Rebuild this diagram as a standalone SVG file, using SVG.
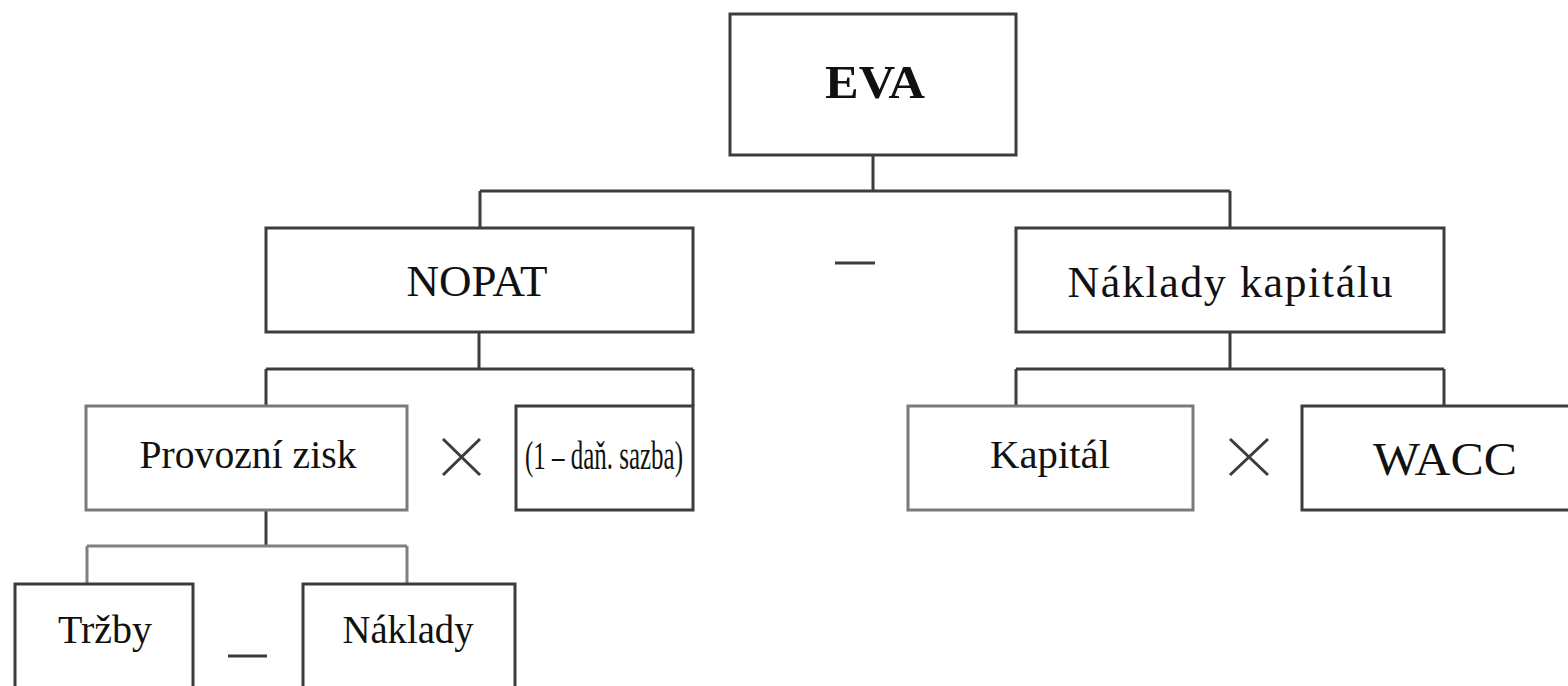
<svg xmlns="http://www.w3.org/2000/svg" width="1568" height="686" viewBox="0 0 1568 686">
<style>
.box{fill:#fff;stroke:#3c3c3c;stroke-width:3}
.gbox{fill:#fff;stroke:#7a7a7a;stroke-width:3}
.ln{fill:none;stroke:#3c3c3c;stroke-width:3}
.gln{fill:none;stroke:#808080;stroke-width:3}
.op{fill:none;stroke:#3c3c3c;stroke-width:3}
.t{font-family:"Liberation Serif","Times New Roman",serif;fill:#111;text-anchor:middle}
</style>
<rect width="1568" height="686" fill="#fff"/>
<g id="connectors">
<path class="ln" d="M873 155V191M480 191H1230M480 191V228M1230 191V228"/>
<path class="ln" d="M479 332V369M266 369H693M266 369V406M693 369V406"/>
<path class="ln" d="M1230 332V369M1016 369H1444M1016 369V406M1444 369V406"/>
<path class="ln" d="M266 510V546"/>
<path class="gln" d="M87 546H407M87 546V584M407 546V584"/>
</g>
<g id="eva"><rect class="box" x="730" y="14" width="286" height="141"/><text class="t" x="875" y="98" font-size="46" font-weight="bold" textLength="100" lengthAdjust="spacingAndGlyphs">EVA</text></g>
<g id="nopat"><rect class="box" x="266" y="228" width="427" height="104"/><text class="t" x="477" y="296" font-size="45">NOPAT</text></g>
<g id="naklady-kapitalu"><rect class="box" x="1016" y="228" width="428" height="104"/><text class="t" x="1230" y="297" font-size="44" textLength="325" lengthAdjust="spacing">Náklady kapitálu</text></g>
<g id="provozni-zisk"><rect class="gbox" x="86" y="406" width="321" height="104"/><text class="t" x="248" y="468" font-size="39" textLength="217" lengthAdjust="spacingAndGlyphs">Provozní zisk</text></g>
<g id="dan"><rect class="box" x="516" y="406" width="177" height="104"/><text class="t" x="604" y="469" font-size="39" textLength="158" lengthAdjust="spacingAndGlyphs">(1 – daň. sazba)</text></g>
<g id="kapital"><rect class="gbox" x="908" y="406" width="285" height="104"/><text class="t" x="1050" y="468" font-size="39" textLength="120" lengthAdjust="spacingAndGlyphs">Kapitál</text></g>
<g id="wacc"><rect class="box" x="1302" y="406" width="290" height="104"/><text class="t" x="1445" y="475" font-size="46" textLength="144" lengthAdjust="spacingAndGlyphs">WACC</text></g>
<g id="trzby"><rect class="box" x="15" y="584" width="178" height="130"/><text class="t" x="105" y="643" font-size="40" textLength="94" lengthAdjust="spacingAndGlyphs">Tržby</text></g>
<g id="naklady"><rect class="box" x="303" y="584" width="212" height="130"/><text class="t" x="408" y="643" font-size="39" textLength="131" lengthAdjust="spacingAndGlyphs">Náklady</text></g>
<g id="operators">
<path class="op" d="M835 263H875"/>
<path class="op" d="M443 439L480 475M480 439L443 475"/>
<path class="op" d="M1230 439L1268 475M1268 439L1230 475"/>
<path class="op" d="M228 656H267"/>
</g>
</svg>
